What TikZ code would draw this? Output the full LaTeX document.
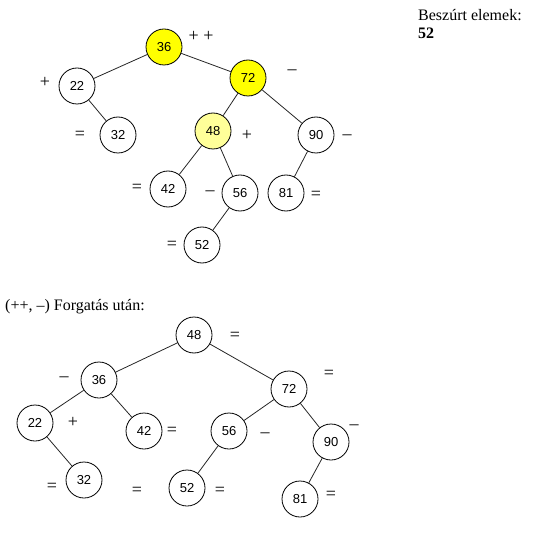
\documentclass[tikz,border=0pt]{standalone}
\usepackage{fontspec}
\setmainfont{Liberation Serif}
\newfontfamily\numfont{Liberation Sans}
\usetikzlibrary{positioning}
\definecolor{hotyel}{RGB}{255,255,0}
\definecolor{paleyel}{RGB}{255,255,153}
\tikzset{
  avl/.style={circle,draw=black,fill=white,line width=0.8pt,minimum size=36pt,
    inner sep=0pt,font=\numfont\fontsize{13}{13}\selectfont},
  hot/.style={fill=hotyel},          % unbalanced node
  warm/.style={fill=paleyel},        % its child
  link/.style={line width=0.8pt,black!85},
  bal/.style={inner sep=0pt,font=\fontsize{18}{18}\selectfont}, % balance sign
  caption/.style={inner sep=0pt,anchor=base west,font=\fontsize{16}{18}\selectfont},
}

\begin{document}
\begin{tikzpicture}[x=1pt,y=-1pt]
  \useasboundingbox (0,0) rectangle (540,537);
  % ---- tree after insertion ----
  \node[avl,hot]  (a36) at (164,47)  {36};
  \node[avl]      (a22) at (77,86)   {22};
  \node[avl,hot]  (a72) at (248,78)  {72};
  \node[avl]      (a32) at (118,135) {32};
  \node[avl,warm] (a48) at (213,131) {48};
  \node[avl]      (a90) at (316,135) {90};
  \node[avl]      (a42) at (168,189) {42};
  \node[avl]      (a56) at (240,193) {56};
  \node[avl]      (a81) at (286,193) {81};
  \node[avl]      (a52) at (202,245) {52};
  \draw[link] (a36)--(a22); \draw[link] (a36)--(a72);
  \draw[link] (a22)--(a32);
  \draw[link] (a72)--(a48); \draw[link] (a72)--(a90);
  \draw[link] (a48)--(a42); \draw[link] (a48)--(a56);
  \draw[link] (a56)--(a52);
  \draw[link] (a90)--(a81);
  \node[bal] (sa36) at (201,36)  {+ +};
  \node[bal] (sa22) at (45,82)   {+};
  \node[bal] (sa72) at (292,72)  {–};
  \node[bal] (sa32) at (80,135)  {=};
  \node[bal] (sa48) at (247,135) {+};
  \node[bal] (sa90) at (347,137) {–};
  \node[bal] (sa42) at (137,188) {=};
  \node[bal] (sa56) at (210,193) {–};
  \node[bal] (sa81) at (316,195) {=};
  \node[bal] (sa52) at (172,245) {=};
  \node[caption] (ins) at (418,21) {Beszúrt elemek:};
  \node[caption,font=\fontsize{16}{18}\selectfont\bfseries] (insv) at (418,39) {52};
  % ---- tree after rotation ----
  \node[caption] (rot) at (5,310) {(++, –) Forgatás után:};
  \node[avl] (b48) at (194,335) {48};
  \node[avl] (b36) at (99,380)  {36};
  \node[avl] (b72) at (289,389) {72};
  \node[avl] (b22) at (35,423)  {22};
  \node[avl] (b42) at (144,431) {42};
  \node[avl] (b56) at (229,431) {56};
  \node[avl] (b90) at (331,442) {90};
  \node[avl] (b32) at (84,480)  {32};
  \node[avl] (b52) at (187,488) {52};
  \node[avl] (b81) at (300,499) {81};
  \draw[link] (b48)--(b36); \draw[link] (b48)--(b72);
  \draw[link] (b36)--(b22); \draw[link] (b36)--(b42);
  \draw[link] (b22)--(b32);
  \draw[link] (b72)--(b56); \draw[link] (b72)--(b90);
  \draw[link] (b56)--(b52);
  \draw[link] (b90)--(b81);
  \node[bal] (sb48) at (235,336) {=};
  \node[bal] (sb36) at (64,379)  {–};
  \node[bal] (sb72) at (329,374) {=};
  \node[bal] (sb22) at (73,422)  {+};
  \node[bal] (sb42) at (172,431) {=};
  \node[bal] (sb56) at (265,435) {–};
  \node[bal] (sb90) at (354,427) {–};
  \node[bal] (sb32) at (52,487)  {=};
  \node[bal] (sbx)  at (137,491) {=};
  \node[bal] (sb52) at (220,491) {=};
  \node[bal] (sb81) at (331,495) {=};
\end{tikzpicture}
\end{document}
